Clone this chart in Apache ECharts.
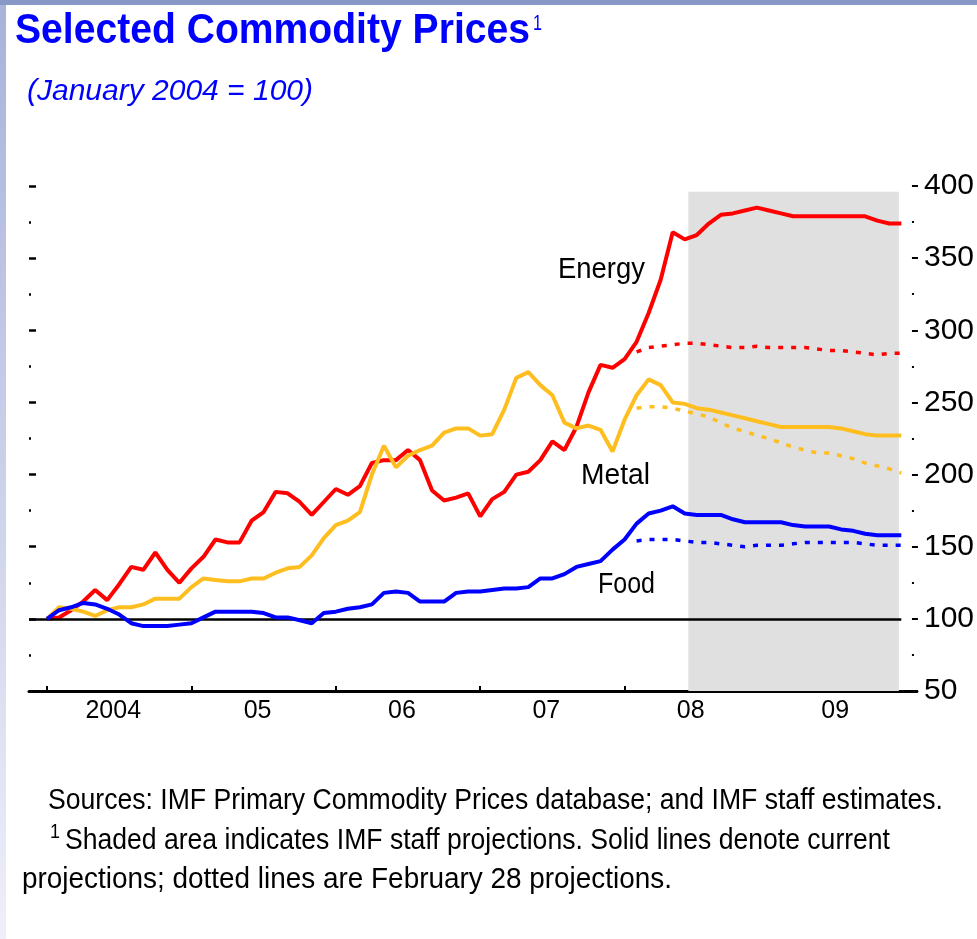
<!DOCTYPE html>
<html>
<head>
<meta charset="utf-8">
<title>Selected Commodity Prices</title>
<script src="https://cdn.jsdelivr.net/npm/echarts@6/dist/echarts.min.js"></script>
<style>
  html, body { margin: 0; padding: 0; background: #fff; }
  #chart { width: 977px; height: 939px; }
</style>
</head>
<body>
<div id="chart"></div>
<script>
// monthly index, Jan 2004 = 0 ... Dec 2009 = 71
const yearLabels = ['2004', '05', '06', '07', '08', '09']

const energy = [
  100, 101, 106, 112, 120, 113, 124, 136, 134, 146, 134, 125,
  135, 143, 155, 153, 153, 168, 174, 188, 187, 181, 172, 181,
  190, 186, 192, 208, 210, 210, 217, 210, 189, 182, 184, 187,
  171, 183, 188, 200, 202, 210, 223, 217, 233, 257, 276, 274,
  280, 292, 312, 335, 368, 363, 366, 374, 380, 381, 383, 385,
  383, 381, 379, 379, 379, 379, 379, 379, 379, 376, 374, 374
]
const metal = [
  100, 108, 107, 105, 102, 106, 108, 108, 110, 114, 114, 114,
  122, 128, 127, 126, 126, 128, 128, 132, 135, 136, 144, 156,
  165, 168, 174, 200, 220, 205, 213, 217, 220, 229, 232, 232,
  227, 228, 245, 267, 271, 262, 255, 236, 232, 234, 231, 216,
  238, 255, 266, 262, 250, 249, 246, 245, 243, 241, 239, 237,
  235, 233, 233, 233, 233, 233, 232, 230, 228, 227, 227, 227
]
const food = [
  100, 106, 108, 111, 110, 107, 103, 97, 95, 95, 95, 96,
  97, 101, 105, 105, 105, 105, 104, 101, 101, 99, 97, 104,
  105, 107, 108, 110, 118, 119, 118, 112, 112, 112, 118, 119,
  119, 120, 121, 121, 122, 128, 128, 131, 136, 138, 140, 148,
  155, 166, 173, 175, 178, 173, 172, 172, 172, 169, 167, 167,
  167, 167, 165, 164, 164, 164, 162, 161, 159, 158, 158, 158
]

// February 28 projections, starting Feb 2008
const febStart = 49
const energyFeb = [285, 288, 289, 290, 291, 291, 290, 289, 288, 288, 289, 288, 288, 288, 288, 287, 286, 286, 285, 284, 283, 284, 284]
const metalFeb = [246, 247, 247, 246, 244, 242, 240, 236, 232, 230, 227, 225, 222, 219, 217, 215, 215, 213, 211, 208, 206, 204, 201]
const foodFeb = [154, 155, 155, 155, 154, 153, 153, 152, 151, 150, 151, 151, 151, 152, 153, 153, 153, 153, 153, 152, 151, 151, 151]

const RED = '#ff0000'
const GOLD = '#ffbe1f'
const BLUE = '#0000ff'
const SANS = '"Liberation Sans", Arial, sans-serif'

const toPoints = (arr, start = 0) => arr.map((v, i) => [i + start, v])

const solid = (name, data, color, z) => ({
  name,
  type: 'line',
  data: toPoints(data),
  symbol: 'none',
  z,
  lineStyle: { color, width: 4 },
})

const dotted = (name, data, color, z) => ({
  name,
  type: 'line',
  data: toPoints(data, febStart),
  symbol: 'none',
  z,
  lineStyle: { color, width: 3.5, type: [5, 8] },
})

// the source uses a condensed bitmap face, so squeeze text to its width
const measureCtx = document.createElement('canvas').getContext('2d')
const fitText = (text, x, y, width, opts = {}) => {
  const size = opts.fontSize || 30
  const weight = opts.fontWeight || 'normal'
  const style = opts.fontStyle || 'normal'
  measureCtx.font = `${style} ${weight} ${size}px ${SANS}`
  const w = measureCtx.measureText(text).width
  return {
    type: 'text',
    x,
    y,
    scaleX: width / w,
    style: {
      text,
      fill: opts.fill || '#000',
      fontSize: size,
      fontWeight: weight,
      fontStyle: style,
      fontFamily: SANS,
      verticalAlign: 'middle',
    },
  }
}

const chart = echarts.init(document.getElementById('chart'))

chart.setOption({
  animation: false,
  backgroundColor: '#fff',
  grid: { left: 29, right: 57, top: 186, bottom: 248 },
  xAxis: {
    type: 'value',
    min: -1.5,
    max: 72.3,
    axisLine: { onZero: false, lineStyle: { color: '#000', width: 3 } },
    axisTick: {
      inside: true,
      length: 5,
      lineStyle: { color: '#000', width: 2 },
      customValues: [0, 12, 24, 36, 48, 60],
    },
    axisLabel: {
      color: '#000',
      fontSize: 25,
      fontFamily: SANS,
      margin: 8,
      customValues: [5.5, 17.5, 29.5, 41.5, 53.5, 65.5],
      formatter: (v) => yearLabels[Math.round((v - 5.5) / 12)],
    },
    splitLine: { show: false },
  },
  yAxis: [
    {
      type: 'value',
      position: 'right',
      min: 50,
      max: 400,
      interval: 50,
      offset: -5,
      axisLine: { show: false, onZero: false },
      axisTick: { length: 6, lineStyle: { color: '#000', width: 2 } },
      minorTick: { show: true, splitNumber: 2, length: 2, lineStyle: { color: '#000', width: 2 } },
      axisLabel: { color: '#000', fontSize: 30, fontFamily: SANS, margin: 12 },
      splitLine: { show: false },
    },
    {
      type: 'value',
      position: 'left',
      min: 50,
      max: 400,
      interval: 50,
      axisLine: { show: false, onZero: false },
      axisTick: { inside: true, length: 7, lineStyle: { color: '#000', width: 2.5 } },
      minorTick: { show: true, splitNumber: 2, length: 2, lineStyle: { color: '#000', width: 2.5 } },
      axisLabel: { show: false },
      splitLine: { show: false },
    },
  ],
  series: [
    {
      name: 'frame',
      type: 'line',
      data: [],
      z: 1,
      markArea: {
        silent: true,
        itemStyle: { color: '#e0e0e0' },
        data: [[{ coord: [53.3, 50] }, { coord: [70.8, 396] }]],
      },
      markLine: {
        silent: true,
        symbol: 'none',
        label: { show: false },
        lineStyle: { color: '#000', width: 2.5, type: 'solid' },
        data: [[{ coord: [-1.5, 100] }, { coord: [71, 100] }]],
      },
    },
    dotted('Energy (Feb 28)', energyFeb, RED, 2),
    dotted('Metal (Feb 28)', metalFeb, GOLD, 2),
    dotted('Food (Feb 28)', foodFeb, BLUE, 2),
    solid('Energy', energy, RED, 3),
    solid('Metal', metal, GOLD, 4),
    solid('Food', food, BLUE, 5),
  ],
  graphic: [
    {
      type: 'rect',
      shape: { x: 0, y: 0, width: 6, height: 939 },
      style: {
        fill: new echarts.graphic.LinearGradient(0, 0, 0, 1, [
          { offset: 0, color: '#a8b2da' },
          { offset: 1, color: '#efeff9' },
        ]),
      },
    },
    {
      type: 'rect',
      shape: { x: 0, y: 0, width: 977, height: 5 },
      style: { fill: '#8797c6' },
    },
    fitText('Selected Commodity Prices', 15, 31, 515, { fontSize: 42, fontWeight: 'bold', fill: BLUE }),
    fitText('1', 533, 24, 9, { fontSize: 22, fill: BLUE }),
    fitText('(January 2004 = 100)', 27, 92, 286, { fontSize: 30, fontStyle: 'italic', fill: BLUE }),
    fitText('Energy', 558, 270, 87),
    fitText('Metal', 581, 476, 69),
    fitText('Food', 598, 585, 57),
    fitText('Sources: IMF Primary Commodity Prices database; and IMF staff estimates.', 48, 801, 895),
    fitText('1', 50, 832, 10, { fontSize: 20 }),
    fitText('Shaded area indicates IMF staff projections. Solid lines denote current', 65, 841, 825),
    fitText('projections; dotted lines are February 28 projections.', 22, 880, 650),
  ],
})
</script>
</body>
</html>
